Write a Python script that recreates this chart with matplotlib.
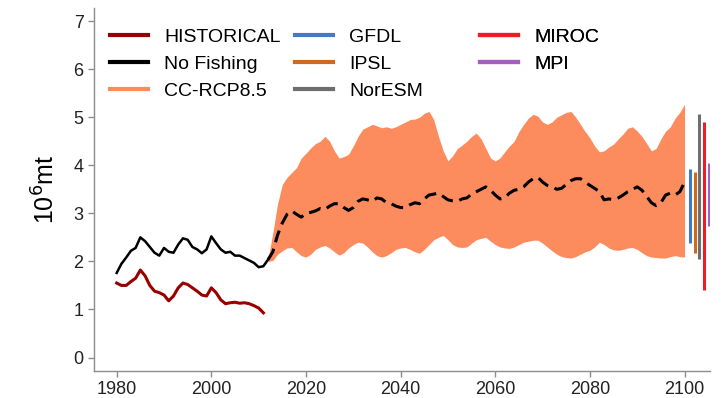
import numpy as np
import matplotlib.pyplot as plt
from matplotlib.lines import Line2D

plt.rcParams['font.family'] = ['Liberation Sans', 'DejaVu Sans']

# historical catch and no-fishing biomass
hist_years = np.arange(1980, 2012)
historical = [1.55, 1.50, 1.50, 1.58, 1.65, 1.82, 1.70, 1.50, 1.38, 1.35,
              1.30, 1.18, 1.28, 1.45, 1.55, 1.52, 1.45, 1.38, 1.30, 1.28,
              1.45, 1.35, 1.20, 1.12, 1.14, 1.15, 1.13, 1.14, 1.12, 1.08,
              1.03, 0.93]

nf_years = np.arange(1980, 2013)
no_fishing = [1.76, 1.95, 2.08, 2.22, 2.28, 2.50, 2.42, 2.30, 2.18, 2.12,
              2.28, 2.20, 2.18, 2.35, 2.48, 2.45, 2.30, 2.25, 2.17, 2.25,
              2.52, 2.38, 2.25, 2.18, 2.20, 2.12, 2.12, 2.07, 2.02, 1.97,
              1.88, 1.90, 2.04]

# CC-RCP8.5 ensemble mean and range
cc_years = np.arange(2012, 2101)
cc_mean = [2.04, 2.20, 2.55, 2.80, 2.98, 3.05, 2.98, 2.92, 3.00, 3.02,
           3.05, 3.10, 3.08, 3.15, 3.20, 3.20, 3.12, 3.06, 3.12, 3.25,
           3.30, 3.28, 3.25, 3.32, 3.30, 3.22, 3.20, 3.15, 3.12, 3.12,
           3.18, 3.22, 3.20, 3.30, 3.38, 3.40, 3.42, 3.35, 3.28, 3.26,
           3.25, 3.30, 3.32, 3.40, 3.45, 3.50, 3.55, 3.48, 3.38, 3.30,
           3.32, 3.42, 3.48, 3.50, 3.55, 3.65, 3.72, 3.75, 3.65, 3.58,
           3.55, 3.50, 3.52, 3.60, 3.68, 3.72, 3.72, 3.65, 3.58, 3.52,
           3.45, 3.28, 3.30, 3.28, 3.32, 3.38, 3.45, 3.50, 3.55, 3.48,
           3.35, 3.22, 3.16, 3.22, 3.38, 3.42, 3.38, 3.45, 3.64]
cc_upper = [2.05, 2.60, 3.20, 3.60, 3.75, 3.85, 3.95, 4.15, 4.25, 4.36,
            4.45, 4.50, 4.60, 4.50, 4.30, 4.15, 4.18, 4.23, 4.40, 4.60,
            4.75, 4.80, 4.85, 4.82, 4.78, 4.80, 4.77, 4.80, 4.85, 4.90,
            4.95, 4.96, 5.00, 5.08, 5.12, 4.95, 4.60, 4.30, 4.09, 4.20,
            4.35, 4.42, 4.50, 4.60, 4.67, 4.55, 4.35, 4.15, 4.09, 4.15,
            4.28, 4.40, 4.50, 4.70, 4.85, 4.98, 5.06, 5.02, 4.90, 4.85,
            4.90, 5.00, 5.05, 5.10, 5.12, 5.00, 4.85, 4.70, 4.57, 4.40,
            4.28, 4.30, 4.38, 4.44, 4.55, 4.65, 4.77, 4.80, 4.71, 4.60,
            4.45, 4.30, 4.35, 4.55, 4.71, 4.80, 4.98, 5.10, 5.27]
cc_lower = [2.00, 2.02, 2.15, 2.22, 2.28, 2.29, 2.20, 2.12, 2.09, 2.15,
            2.25, 2.30, 2.33, 2.28, 2.20, 2.13, 2.18, 2.28, 2.35, 2.40,
            2.38, 2.30, 2.20, 2.12, 2.09, 2.12, 2.18, 2.25, 2.28, 2.29,
            2.25, 2.20, 2.17, 2.25, 2.35, 2.45, 2.50, 2.54, 2.45, 2.35,
            2.30, 2.29, 2.30, 2.38, 2.45, 2.48, 2.50, 2.42, 2.35, 2.30,
            2.28, 2.27, 2.30, 2.35, 2.40, 2.42, 2.44, 2.44, 2.38, 2.30,
            2.22, 2.15, 2.10, 2.08, 2.07, 2.10, 2.15, 2.20, 2.23, 2.30,
            2.40, 2.35, 2.28, 2.24, 2.23, 2.25, 2.28, 2.29, 2.25, 2.18,
            2.12, 2.09, 2.08, 2.07, 2.07, 2.10, 2.12, 2.10, 2.09]

# end-of-century range for each model
models = ['GFDL', 'IPSL', 'NorESM', 'MIROC', 'MPI']
model_x = [2101.1, 2102.2, 2103.1, 2104.1, 2105.1]
model_lo = [2.38, 2.17, 2.05, 1.40, 2.73]
model_hi = [3.93, 3.85, 5.07, 4.90, 4.05]
model_colors = ['#4479c8', '#cc6a22', '#6e6e6e', '#ee1c24', '#a35fc0']

hist_color = '#990000'
band_color = '#fc8c5e'
axis_grey = '#8c8c8c'

fig = plt.figure(figsize=(7.24, 3.98), dpi=100)
ax = fig.add_axes([0.1298, 0.0678, 0.851, 0.912])

ax.fill_between(cc_years, cc_lower, cc_upper, color=band_color, lw=0, zorder=1)
ax.plot(hist_years, historical, color=hist_color, lw=2.2, zorder=3)
ax.plot(nf_years, no_fishing, color='black', lw=1.8, zorder=3)
ax.plot(cc_years, cc_mean, color='black', lw=2.2, ls=(0, (4, 2.2)), zorder=3)
for x, lo, hi, c in zip(model_x, model_lo, model_hi, model_colors):
    ax.plot([x, x], [lo, hi], color=c, lw=2.2, solid_capstyle='butt', zorder=2)

ax.set_xlim(1975.2, 2105.4)
ax.set_ylim(-0.28, 7.27)
ax.set_xticks(np.arange(1980, 2101, 20))
ax.set_yticks(np.arange(0, 8))
ax.set_ylabel('10$^6$mt', fontsize=18, labelpad=10)

for s in ['top', 'right']:
    ax.spines[s].set_visible(False)
for s in ['left', 'bottom']:
    ax.spines[s].set_color(axis_grey)
    ax.spines[s].set_linewidth(1.0)
ax.tick_params(colors=axis_grey, labelcolor='#222222', labelsize=13, length=4, width=1)

# legend in three fixed columns
labels = ['HISTORICAL', 'No Fishing', 'CC-RCP8.5'] + models
colors = [hist_color, 'black', band_color] + model_colors
handles = [Line2D([], [], color=c, lw=3) for c in colors]
col_x = [0.026, 0.326, 0.627]
groups = [(0, 3), (3, 6), (6, 8)]
for cx, (a, b) in zip(col_x, groups):
    leg = ax.legend(handles[a:b], labels[a:b], loc='upper left', bbox_to_anchor=(cx, 0.945),
                    frameon=False, fontsize=14, handlelength=1.95, handletextpad=0.85,
                    labelspacing=0.5, borderaxespad=0, borderpad=0)
    ax.add_artist(leg)

fig.savefig('out.png', dpi=100)
